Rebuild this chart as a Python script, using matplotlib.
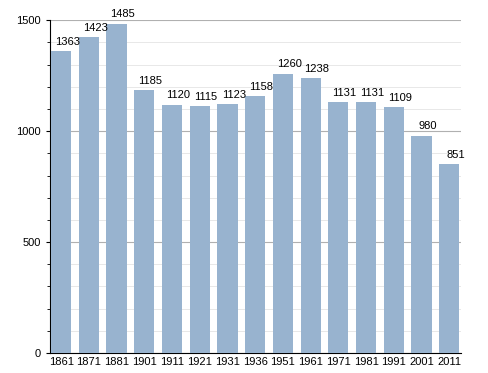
import matplotlib.pyplot as plt
from matplotlib.ticker import MultipleLocator

plt.rcParams['font.family'] = ['Liberation Sans', 'DejaVu Sans']

years = ['1861', '1871', '1881', '1901', '1911', '1921', '1931', '1936',
         '1951', '1961', '1971', '1981', '1991', '2001', '2011']
population = [1363, 1423, 1485, 1185, 1120, 1115, 1123, 1158,
              1260, 1238, 1131, 1131, 1109, 980, 851]

fig = plt.figure(figsize=(4.88, 3.73), dpi=100)
ax = fig.add_axes([0.1025, 0.0536, 0.842, 0.892])

x = range(len(years))
ax.bar(x, population, width=0.73, color='#98b3cf', zorder=3)
for i, v in enumerate(population):
    ax.annotate(str(v), (i, v), xytext=(4.5, 3), textcoords='offset points',
                ha='center', va='bottom', fontsize=8, zorder=4)

ax.set_ylim(0, 1500)
ax.set_xlim(-0.4, 14.42)
ax.yaxis.set_major_locator(MultipleLocator(500))
ax.yaxis.set_minor_locator(MultipleLocator(100))
ax.grid(axis='y', which='minor', color='#e8e8e8', linewidth=0.7, zorder=0)
ax.grid(axis='y', which='major', color='#b0b0b0', linewidth=0.8, zorder=0)
ax.set_xticks(list(x))
ax.set_xticklabels(years, fontsize=8)
ax.tick_params(axis='x', length=0, pad=3)
ax.tick_params(axis='y', which='major', length=3, labelsize=8)
ax.tick_params(axis='y', which='minor', length=2)
ax.spines['top'].set_visible(False)
ax.spines['right'].set_visible(False)

fig.savefig('out.png', dpi=100)
